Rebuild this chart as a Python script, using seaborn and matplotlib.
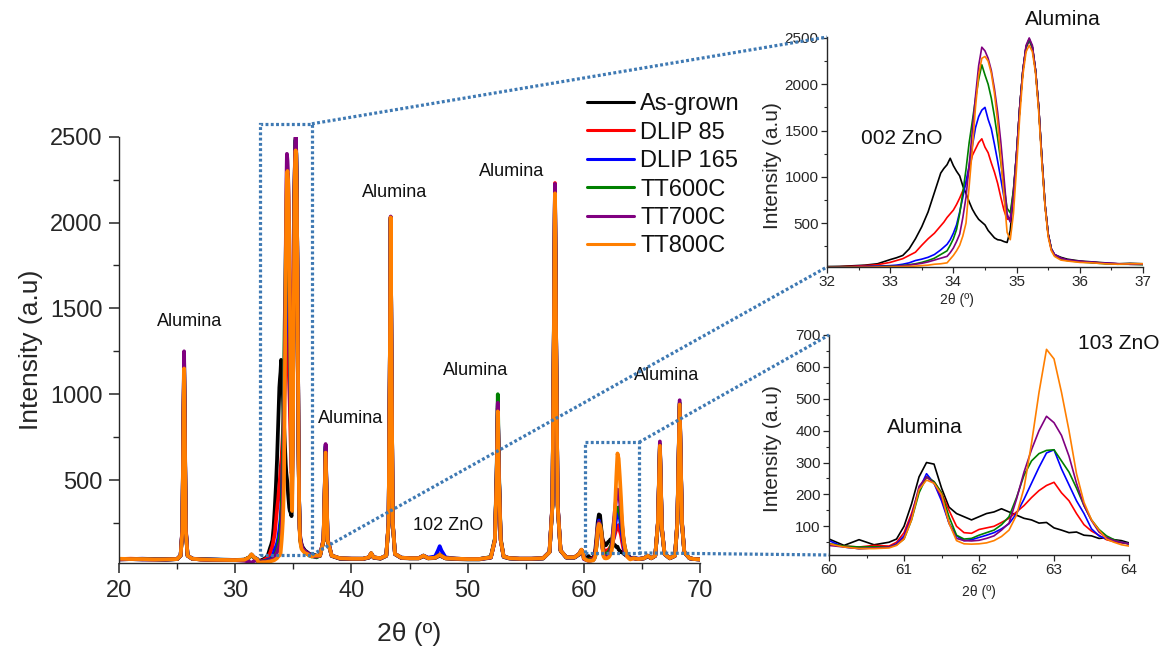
import numpy as np
import pandas as pd
import matplotlib
matplotlib.use("Agg")
import matplotlib.pyplot as plt
from matplotlib.patches import Rectangle
from matplotlib.lines import Line2D
from matplotlib.ticker import MultipleLocator, FixedLocator
import seaborn as sns

# ---------------------------------------------------------------- data
series_names = ["As-grown", "DLIP 85", "DLIP 165", "TT600C", "TT700C", "TT800C"]
series_colors = ["#000000", "#ff0000", "#0000ff", "#008000", "#800080", "#ff7f00"]

# full-range scan outside the two zoom windows (2-theta in degrees)
wide_x = [20.0, 21.0, 22.0, 23.0, 24.0, 25.0, 25.3, 25.45, 25.53, 25.6, 25.67, 25.75, 25.9, 26.3,
          27.0, 28.0, 29.0, 30.0, 30.8, 31.2, 31.4, 31.6, 31.9,
          37.3, 37.6, 37.7, 37.78, 37.86, 37.95, 38.3, 39.0, 40.0, 41.0, 41.5, 41.7, 41.9, 42.5,
          43.0, 43.2, 43.3, 43.38, 43.46, 43.56, 43.75, 44.3, 45.0, 45.8, 46.2, 46.6,
          47.2, 47.45, 47.6, 47.75, 48.1, 49.0, 50.0, 51.0, 52.0,
          52.35, 52.5, 52.6, 52.7, 52.85, 53.1, 53.6, 54.5, 55.5, 56.5,
          57.05, 57.3, 57.42, 57.52, 57.62, 57.75, 58.0, 58.5, 59.2, 59.6, 59.8, 59.95,
          64.3, 64.7, 65.2, 65.5, 65.8, 66.15, 66.38, 66.47, 66.55, 66.63, 66.72, 66.95,
          67.4, 67.85, 68.05, 68.15, 68.25, 68.35, 68.45, 68.65, 69.1, 69.5, 70.0]

wide_as_grown = [38, 40, 38, 38, 36, 40, 60, 200, 690, 1150, 690, 200, 60, 42, 38, 36, 35, 34, 36, 48, 62, 50, 40,
                 58, 145, 410, 660, 410, 145, 58, 42, 40, 40, 48, 70, 48, 42,
                 58, 245, 1090, 2020, 1090, 245, 68, 46, 44, 44, 56, 44,
                 46, 55, 60, 55, 44, 40, 38, 38, 48,
                 150, 510, 920, 510, 150, 52, 43, 40, 40, 43,
                 80, 350, 1310, 2190, 1310, 350, 88, 48, 48, 66, 90, 68,
                 45, 40, 44, 56, 44, 58, 245, 470, 690, 470, 215, 68,
                 44, 58, 245, 590, 930, 590, 245, 78, 44, 40, 38]
wide_dlip85 = [40, 42, 40, 38, 40, 40, 60, 210, 720, 1190, 720, 210, 60, 42, 38, 36, 35, 34, 36, 50, 65, 50, 38,
               60, 150, 425, 680, 425, 150, 60, 44, 42, 41, 50, 72, 50, 44,
               60, 250, 1100, 2030, 1100, 250, 70, 47, 45, 45, 58, 45,
               48, 60, 68, 60, 45, 42, 40, 40, 50,
               150, 515, 930, 515, 150, 55, 45, 42, 42, 45,
               82, 360, 1330, 2230, 1330, 360, 90, 50, 50, 70, 92, 70,
               44, 40, 45, 58, 45, 60, 250, 480, 700, 480, 220, 70,
               45, 60, 250, 600, 940, 600, 250, 80, 45, 40, 38]
wide_dlip165 = [40, 40, 42, 40, 38, 40, 60, 210, 720, 1205, 720, 210, 60, 42, 40, 38, 36, 35, 36, 50, 66, 52, 40,
                60, 155, 435, 700, 435, 155, 60, 45, 42, 42, 50, 74, 50, 45,
                60, 250, 1100, 2025, 1100, 250, 70, 48, 46, 46, 60, 48,
                55, 90, 115, 90, 50, 42, 40, 40, 50,
                150, 520, 940, 520, 150, 55, 45, 42, 42, 45,
                82, 355, 1320, 2210, 1320, 355, 90, 50, 50, 70, 94, 70,
                48, 42, 45, 60, 45, 60, 250, 485, 705, 485, 222, 70,
                45, 60, 252, 603, 945, 603, 252, 80, 45, 40, 38]
wide_tt600 = [40, 41, 40, 39, 38, 40, 60, 210, 730, 1215, 730, 210, 60, 42, 39, 37, 36, 35, 36, 50, 66, 50, 38,
              60, 152, 430, 690, 430, 152, 60, 44, 42, 42, 50, 74, 50, 44,
              60, 250, 1100, 2030, 1100, 250, 70, 48, 45, 45, 60, 45,
              48, 60, 66, 60, 45, 42, 40, 40, 52,
              160, 550, 1000, 550, 160, 55, 45, 42, 42, 45,
              82, 355, 1320, 2200, 1320, 355, 90, 50, 50, 70, 94, 70,
              46, 40, 45, 60, 45, 60, 252, 488, 710, 488, 224, 70,
              45, 60, 254, 606, 950, 606, 254, 80, 45, 40, 38]
wide_tt700 = [38, 40, 38, 38, 37, 40, 60, 220, 760, 1250, 760, 220, 60, 42, 38, 36, 35, 34, 30, 25, 18, 28, 35,
              60, 158, 440, 710, 440, 158, 60, 44, 42, 42, 50, 74, 50, 44,
              60, 252, 1105, 2035, 1105, 252, 70, 48, 45, 45, 60, 45,
              48, 58, 64, 58, 45, 42, 40, 40, 50,
              155, 525, 950, 525, 155, 55, 45, 42, 42, 45,
              82, 360, 1325, 2225, 1325, 360, 90, 50, 50, 70, 94, 70,
              45, 40, 45, 60, 45, 60, 256, 498, 725, 498, 228, 70,
              45, 60, 258, 615, 965, 615, 258, 80, 45, 40, 38]
wide_tt800 = [42, 40, 40, 38, 38, 40, 60, 200, 700, 1150, 700, 200, 60, 42, 38, 36, 35, 34, 36, 50, 68, 52, 38,
              60, 150, 420, 660, 420, 150, 60, 45, 42, 42, 50, 75, 50, 45,
              60, 250, 1100, 2030, 1100, 250, 70, 48, 45, 45, 60, 45,
              48, 58, 65, 58, 45, 42, 40, 40, 50,
              150, 500, 900, 500, 150, 55, 45, 42, 42, 45,
              80, 350, 1300, 2170, 1300, 350, 90, 50, 50, 70, 95, 70,
              45, 40, 45, 60, 45, 60, 250, 480, 700, 480, 220, 70,
              45, 60, 250, 600, 940, 600, 250, 80, 45, 40, 38]

# fine scan around the ZnO (002) / alumina doublet
zno002_x = [32.0, 32.2, 32.4, 32.6, 32.8, 33.0, 33.1, 33.2, 33.3, 33.4, 33.5, 33.6, 33.7, 33.8,
            33.85, 33.9, 33.95, 34.0, 34.05, 34.1, 34.15, 34.2, 34.25, 34.3, 34.35, 34.4, 34.45,
            34.5, 34.55, 34.6, 34.65, 34.7, 34.75, 34.8, 34.85, 34.9, 34.95, 35.0, 35.05, 35.1,
            35.15, 35.2, 35.25, 35.3, 35.35, 35.4, 35.45, 35.5, 35.55, 35.6,
            35.7, 35.8, 36.0, 36.2, 36.4, 36.6, 36.8, 37.0]
zno002_as_grown = [30, 32, 38, 45, 60, 105, 125, 150, 220, 330, 460, 620, 830, 1040,
                   1090, 1130, 1200, 1120, 1060, 1010, 900, 820, 730, 650, 590, 540, 510,
                   480, 420, 380, 340, 320, 315, 300, 290, 420, 800, 1250, 1750, 2150,
                   2400, 2480, 2400, 2150, 1750, 1200, 700, 380, 220, 160,
                   130, 110, 90, 80, 70, 60, 65, 60]
zno002_dlip85 = [25, 28, 32, 40, 50, 75, 95, 115, 150, 185, 260, 330, 390, 470,
                 510, 560, 600, 640, 700, 770, 850, 920, 1080, 1230, 1300, 1370, 1410,
                 1320, 1260, 1150, 1050, 930, 780, 640, 540, 560, 850, 1250, 1750, 2150,
                 2400, 2470, 2390, 2150, 1750, 1200, 700, 370, 210, 150,
                 120, 100, 85, 75, 65, 60, 55, 55]
zno002_dlip165 = [22, 25, 28, 30, 35, 40, 45, 55, 70, 95, 110, 130, 160, 210,
                  240, 270, 320, 390, 480, 620, 780, 950, 1120, 1330, 1530, 1650, 1720,
                  1750, 1620, 1520, 1350, 1170, 980, 780, 580, 520, 830, 1250, 1750, 2150,
                  2400, 2480, 2400, 2150, 1750, 1200, 700, 380, 220, 160,
                  120, 100, 85, 75, 65, 60, 55, 55]
zno002_tt600 = [22, 24, 26, 28, 30, 35, 38, 42, 50, 60, 75, 95, 120, 160,
                180, 200, 260, 330, 430, 600, 830, 1080, 1370, 1600, 1840, 2050, 2210,
                2100, 2000, 1850, 1650, 1420, 1160, 900, 660, 610, 850, 1250, 1750, 2150,
                2400, 2490, 2400, 2150, 1750, 1200, 700, 380, 220, 150,
                110, 95, 80, 70, 60, 55, 55, 50]
zno002_tt700 = [20, 22, 24, 26, 28, 32, 35, 38, 45, 55, 65, 80, 100, 120,
                130, 140, 180, 230, 300, 380, 560, 780, 1130, 1500, 1870, 2200, 2400,
                2360, 2280, 2150, 1950, 1700, 1380, 1000, 600, 510, 800, 1250, 1750, 2150,
                2420, 2500, 2420, 2150, 1750, 1200, 700, 380, 220, 160,
                120, 100, 85, 75, 65, 60, 55, 55]
zno002_tt800 = [20, 20, 22, 22, 24, 26, 28, 30, 32, 35, 40, 45, 55, 60,
                65, 70, 110, 150, 200, 260, 360, 500, 900, 1300, 1750, 2100, 2280,
                2300, 2250, 2120, 1900, 1600, 1200, 800, 400, 320, 600, 1100, 1650, 2100,
                2350, 2420, 2350, 2120, 1700, 1150, 680, 350, 200, 140,
                100, 90, 75, 70, 60, 55, 60, 60]

# fine scan around the alumina / ZnO (103) pair
zno103_x = [60.0, 60.2, 60.4, 60.6, 60.8, 60.9, 61.0, 61.1, 61.2, 61.3, 61.4, 61.5, 61.6,
            61.7, 61.8, 61.9, 62.0, 62.1, 62.2, 62.3, 62.4, 62.5, 62.6, 62.7, 62.8, 62.9,
            63.0, 63.1, 63.2, 63.3, 63.4, 63.5, 63.6, 63.7, 63.8, 63.9, 64.0]
zno103_as_grown = [60, 40, 58, 42, 50, 60, 100, 170, 255, 300, 295, 220, 160,
                   140, 130, 120, 130, 140, 145, 155, 145, 135, 125, 120, 110, 112,
                   95, 88, 80, 82, 72, 70, 62, 64, 58, 55, 48]
zno103_dlip85 = [45, 38, 35, 40, 38, 50, 80, 140, 215, 255, 240, 205, 150,
                 100, 80, 78, 90, 95, 100, 112, 125, 145, 165, 190, 212, 228,
                 238, 205, 180, 140, 105, 85, 72, 58, 52, 48, 45]
zno103_dlip165 = [55, 35, 30, 32, 35, 45, 70, 130, 215, 265, 235, 180, 110,
                  70, 55, 58, 65, 72, 80, 92, 108, 140, 185, 235, 285, 330,
                  340, 280, 230, 180, 140, 92, 70, 60, 55, 50, 45]
zno103_tt600 = [45, 38, 35, 36, 35, 42, 60, 120, 205, 255, 240, 205, 130,
                72, 60, 62, 72, 80, 88, 105, 130, 190, 260, 305, 328, 338,
                340, 305, 270, 220, 165, 120, 90, 70, 58, 50, 45]
zno103_tt700 = [40, 35, 30, 32, 35, 42, 65, 130, 225, 255, 235, 190, 110,
                62, 55, 54, 56, 62, 70, 88, 110, 185, 270, 340, 400, 445,
                425, 385, 320, 235, 165, 118, 82, 65, 55, 50, 45]
zno103_tt800 = [45, 35, 30, 30, 32, 40, 60, 120, 215, 245, 235, 200, 110,
                55, 45, 44, 45, 48, 55, 68, 88, 135, 220, 360, 520, 655,
                625, 520, 400, 265, 175, 120, 88, 60, 50, 42, 38]

peak_labels = ["Alumina", "Alumina", "Alumina", "Alumina", "Alumina", "Alumina", "102 ZnO"]
peak_label_x = [26.1, 39.95, 43.75, 50.65, 53.8, 67.15, 48.3]
peak_label_y = [1421, 858, 2172, 1141, 2295, 1107, 233]


# ---------------------------------------------------------------- frames
def long_frame(x, columns):
    parts = [pd.DataFrame({"two_theta": x, "intensity": ys, "sample": name})
             for name, ys in zip(series_names, columns)]
    return pd.concat(parts, ignore_index=True)


wide_cols = [wide_as_grown, wide_dlip85, wide_dlip165, wide_tt600, wide_tt700, wide_tt800]
z002_cols = [zno002_as_grown, zno002_dlip85, zno002_dlip165, zno002_tt600, zno002_tt700, zno002_tt800]
z103_cols = [zno103_as_grown, zno103_dlip85, zno103_dlip165, zno103_tt600, zno103_tt700, zno103_tt800]

df_002 = long_frame(zno002_x, z002_cols)
df_103 = long_frame(zno103_x, z103_cols)
df_full = pd.concat([long_frame(wide_x, wide_cols), df_002, df_103], ignore_index=True)
df_full = df_full.sort_values(["sample", "two_theta"]).reset_index(drop=True)

palette = dict(zip(series_names, series_colors))

# ---------------------------------------------------------------- style
sns.set_theme(style="ticks")
plt.rcParams["font.family"] = ["Liberation Sans", "DejaVu Sans"]
plt.rcParams["axes.linewidth"] = 1.0
plt.rcParams["text.color"] = "#111111"

fig = plt.figure(figsize=(11.68, 6.53), dpi=100)
ax = fig.add_axes([0.1019, 0.1378, 0.4974, 0.6529])
ax_a = fig.add_axes([0.7080, 0.5911, 0.2706, 0.3522])
ax_b = fig.add_axes([0.7098, 0.1501, 0.2568, 0.3369])

# ---------------------------------------------------------------- main panel
sns.lineplot(data=df_full, x="two_theta", y="intensity", hue="sample",
             hue_order=series_names, palette=palette, estimator=None, sort=True,
             linewidth=2.7, legend=False, ax=ax)
ax.set_xlim(20, 70)
ax.set_ylim(17, 2500)
ax.xaxis.set_major_locator(MultipleLocator(10))
ax.xaxis.set_minor_locator(MultipleLocator(5))
ax.yaxis.set_major_locator(FixedLocator([500, 1000, 1500, 2000, 2500]))
ax.yaxis.set_minor_locator(FixedLocator([250, 750, 1250, 1750, 2250]))
ax.tick_params(which="major", direction="out", length=7, width=1.1, labelsize=17, pad=5)
ax.tick_params(which="minor", direction="out", length=4, width=1.0)
ax.set_xlabel("2θ (º)", fontsize=19)
ax.set_ylabel("Intensity (a.u)", fontsize=19)
ax.xaxis.set_label_coords(0.5, -0.138)
ax.yaxis.set_label_coords(-0.13, 0.5)
sns.despine(ax=ax)

for txt, tx, ty in zip(peak_labels, peak_label_x, peak_label_y):
    ax.text(tx, ty, txt, ha="center", va="center", fontsize=13)

# ---------------------------------------------------------------- inset: ZnO (002)
sns.lineplot(data=df_002, x="two_theta", y="intensity", hue="sample",
             hue_order=series_names, palette=palette, estimator=None, sort=True,
             linewidth=1.2, legend=False, ax=ax_a)
ax_a.set_xlim(32, 37)
ax_a.set_ylim(25, 2510)
ax_a.xaxis.set_major_locator(MultipleLocator(1))
ax_a.xaxis.set_minor_locator(MultipleLocator(0.5))
ax_a.yaxis.set_major_locator(FixedLocator([500, 1000, 1500, 2000, 2500]))
ax_a.yaxis.set_minor_locator(FixedLocator([250, 750, 1250, 1750, 2250]))
ax_a.tick_params(which="major", direction="out", length=4, width=0.9, labelsize=11, pad=2)
ax_a.tick_params(which="minor", direction="out", length=2.5, width=0.8)
ax_a.set_xlabel("2θ (º)", fontsize=10)
ax_a.set_ylabel("Intensity (a.u)", fontsize=15)
ax_a.xaxis.set_label_coords(0.41, -0.115)
ax_a.yaxis.set_label_coords(-0.142, 0.44)
sns.despine(ax=ax_a)
ax_a.text(35.73, 2699, "Alumina", ha="center", va="center", fontsize=15, clip_on=False)
ax_a.text(33.19, 1413, "002 ZnO", ha="center", va="center", fontsize=15)

# ---------------------------------------------------------------- inset: ZnO (103)
sns.lineplot(data=df_103, x="two_theta", y="intensity", hue="sample",
             hue_order=series_names, palette=palette, estimator=None, sort=True,
             linewidth=1.2, legend=False, ax=ax_b)
ax_b.set_xlim(60, 64)
ax_b.set_ylim(10, 700)
ax_b.xaxis.set_major_locator(MultipleLocator(1))
ax_b.xaxis.set_minor_locator(MultipleLocator(0.5))
ax_b.yaxis.set_major_locator(FixedLocator([100, 200, 300, 400, 500, 600, 700]))
ax_b.yaxis.set_minor_locator(FixedLocator([50, 150, 250, 350, 450, 550, 650]))
ax_b.tick_params(which="major", direction="out", length=4, width=0.9, labelsize=11, pad=2)
ax_b.tick_params(which="minor", direction="out", length=2.5, width=0.8)
ax_b.set_xlabel("2θ (º)", fontsize=10)
ax_b.set_ylabel("Intensity (a.u)", fontsize=15)
ax_b.xaxis.set_label_coords(0.5, -0.136)
ax_b.yaxis.set_label_coords(-0.157, 0.486)
sns.despine(ax=ax_b)
ax_b.text(61.28, 409, "Alumina", ha="center", va="center", fontsize=15)
ax_b.text(63.87, 672, "103 ZnO", ha="center", va="center", fontsize=15, clip_on=False)

# ---------------------------------------------------------------- zoom windows and connectors
zoom_color = "#3e79b3"
dots = (0, (0.9, 0.75))
win_a = (32.15, 65, 36.6, 2575)
win_b = (60.1, 76, 64.75, 720)
for x0, y0, x1, y1 in (win_a, win_b):
    ax.add_patch(Rectangle((x0, y0), x1 - x0, y1 - y0, fill=False, edgecolor=zoom_color,
                           linewidth=2.3, linestyle=dots, clip_on=False, zorder=10))

to_fig = fig.transFigure.inverted()
for (x0, y0, x1, y1), inset in ((win_a, ax_a), (win_b, ax_b)):
    for y_main, y_frac in ((y1, 1.0), (y0, 0.0)):
        p0 = to_fig.transform(ax.transData.transform((x1, y_main)))
        p1 = to_fig.transform(inset.transAxes.transform((0.0, y_frac)))
        fig.add_artist(Line2D([p0[0], p1[0]], [p0[1], p1[1]], transform=fig.transFigure,
                              color=zoom_color, linewidth=2.3, linestyle=dots, zorder=10))

# ---------------------------------------------------------------- legend
handles = [Line2D([0], [0], color=c, linewidth=2.2) for c in series_colors]
fig.legend(handles, series_names, loc="upper left", bbox_to_anchor=(0.5026, 0.857),
           frameon=False, fontsize=17, handlelength=2.0, handletextpad=0.25,
           labelspacing=0.27, borderpad=0, borderaxespad=0)

fig.savefig("out.png", dpi=100)
